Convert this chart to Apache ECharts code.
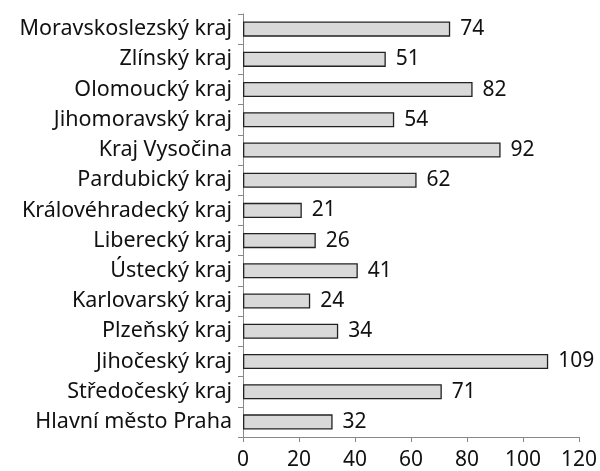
<!DOCTYPE html>
<html><head><meta charset="utf-8">
<script src="https://cdn.jsdelivr.net/npm/echarts@6/dist/echarts.min.js"></script>
<style>html,body{margin:0;padding:0;background:#fff}#c{width:600px;height:471px}</style>
</head><body><div id="c"></div>
<script>
const categories = ["Moravskoslezský kraj","Zlínský kraj","Olomoucký kraj","Jihomoravský kraj","Kraj Vysočina","Pardubický kraj","Královéhradecký kraj","Liberecký kraj","Ústecký kraj","Karlovarský kraj","Plzeňský kraj","Jihočeský kraj","Středočeský kraj","Hlavní město Praha"];
const values = [74,51,82,54,92,62,21,26,41,24,34,109,71,32];
const xTicks = [0,20,40,60,80,100,120];

const font = '"Noto Sans", "Open Sans", sans-serif';
const chart = echarts.init(document.getElementById('c'), null, {renderer:'canvas'});
chart.setOption({
  animation:false,
  grid:{left:243,right:21,top:14,bottom:34,containLabel:false},
  xAxis:{type:'value',min:xTicks[0],max:xTicks[xTicks.length-1],interval:20,
    axisLine:{show:true,lineStyle:{color:'#888',width:1}},
    axisTick:{show:true,length:5,lineStyle:{color:'#888'}},
    splitLine:{show:false},
    axisLabel:{color:'#111',fontSize:21,fontFamily:font,margin:13}},
  yAxis:{type:'category',data:categories,inverse:true,
    axisLine:{show:true,lineStyle:{color:'#888',width:1}},
    axisTick:{show:true,length:5,lineStyle:{color:'#888'}},
    axisLabel:{color:'#111',fontSize:21.5,fontFamily:font,margin:11}},
  series:[{type:'bar',data:values,barCategoryGap:'50%',
    itemStyle:{color:'#d9d9d9',borderColor:'#222',borderWidth:1.3},
    label:{show:true,position:'right',distance:10,color:'#111',fontSize:21,fontFamily:font}}]
});
</script></body></html>
